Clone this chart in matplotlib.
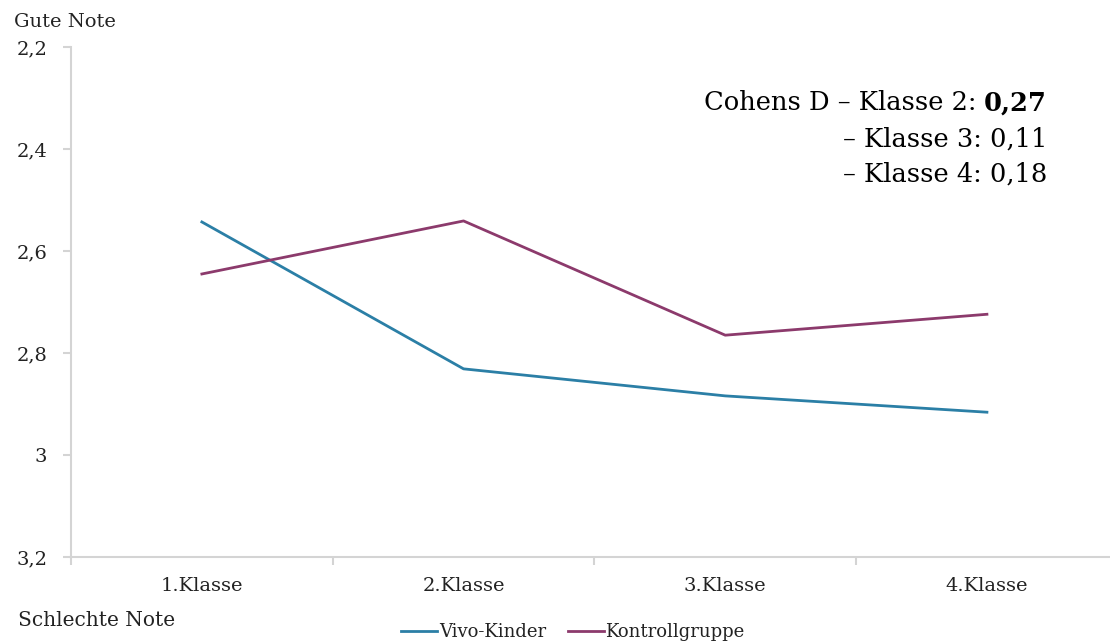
import matplotlib.pyplot as plt
import numpy as np

classes = ["1.Klasse", "2.Klasse", "3.Klasse", "4.Klasse"]
vivo = [2.543, 2.831, 2.884, 2.916]
kontroll = [2.645, 2.541, 2.765, 2.724]
yticks = [2.2, 2.4, 2.6, 2.8, 3.0, 3.2]
ylabels = ["2,2", "2,4", "2,6", "2,8", "3", "3,2"]

blue = "#2b7fa6"
purple = "#8c3a6c"
grey = "#d4d4d4"
txt = "#222222"

plt.rcParams['font.family'] = ['DejaVu Serif']

fig = plt.figure(figsize=(11.1, 6.44), dpi=100)
ax = fig.add_axes([0.064, 0.135, 0.943, 0.792])

x = np.arange(len(classes))
ax.plot(x, vivo, color=blue, lw=2, label="Vivo-Kinder")
ax.plot(x, kontroll, color=purple, lw=2, label="Kontrollgruppe")

ax.set_xlim(-0.5, 3.5)
ax.set_ylim(3.2, 2.2)
ax.set_yticks(yticks)
ax.set_yticklabels(ylabels, fontsize=14, color=txt)
ax.set_xticks(x)
ax.set_xticklabels(classes, fontsize=14, color=txt)
ax.set_xticks(np.arange(-0.5, 3.6, 1), minor=True)
ax.tick_params(axis='x', which='major', length=0, pad=14)
ax.tick_params(axis='x', which='minor', length=6, color=grey, width=1.5)
ax.tick_params(axis='y', length=6, color=grey, width=1.5, pad=11)

for s in ['top', 'right']:
    ax.spines[s].set_visible(False)
for s in ['left', 'bottom']:
    ax.spines[s].set_color(grey)
    ax.spines[s].set_linewidth(1.5)

fig.text(0.013, 0.966, "Gute Note", fontsize=14, color=txt, va='center')
fig.text(0.016, 0.037, "Schlechte Note", fontsize=14.5, color=txt, va='center')

# Cohens D annotation
bold = fig.text(1047 / 1110, 1 - 103 / 644, "0,27", fontsize=18.5, fontweight='bold',
                ha='right', va='center', color='black')
ax.annotate("Cohens D – Klasse 2: ", xy=(0, 0.5), xycoords=bold, fontsize=18.5,
            ha='right', va='center', color='black')
fig.text(1047 / 1110, 1 - 139 / 644, "– Klasse 3: 0,11", fontsize=18.5,
         ha='right', va='center', color='black')
fig.text(1047 / 1110, 1 - 174 / 644, "– Klasse 4: 0,18", fontsize=18.5,
         ha='right', va='center', color='black')

fig.legend(loc='center', bbox_to_anchor=(0.516, 0.018), ncol=2, frameon=False,
           fontsize=13, handlelength=2.0, handletextpad=0.1, columnspacing=1.2,
           labelcolor=txt)

fig.savefig("out.png", dpi=100)
